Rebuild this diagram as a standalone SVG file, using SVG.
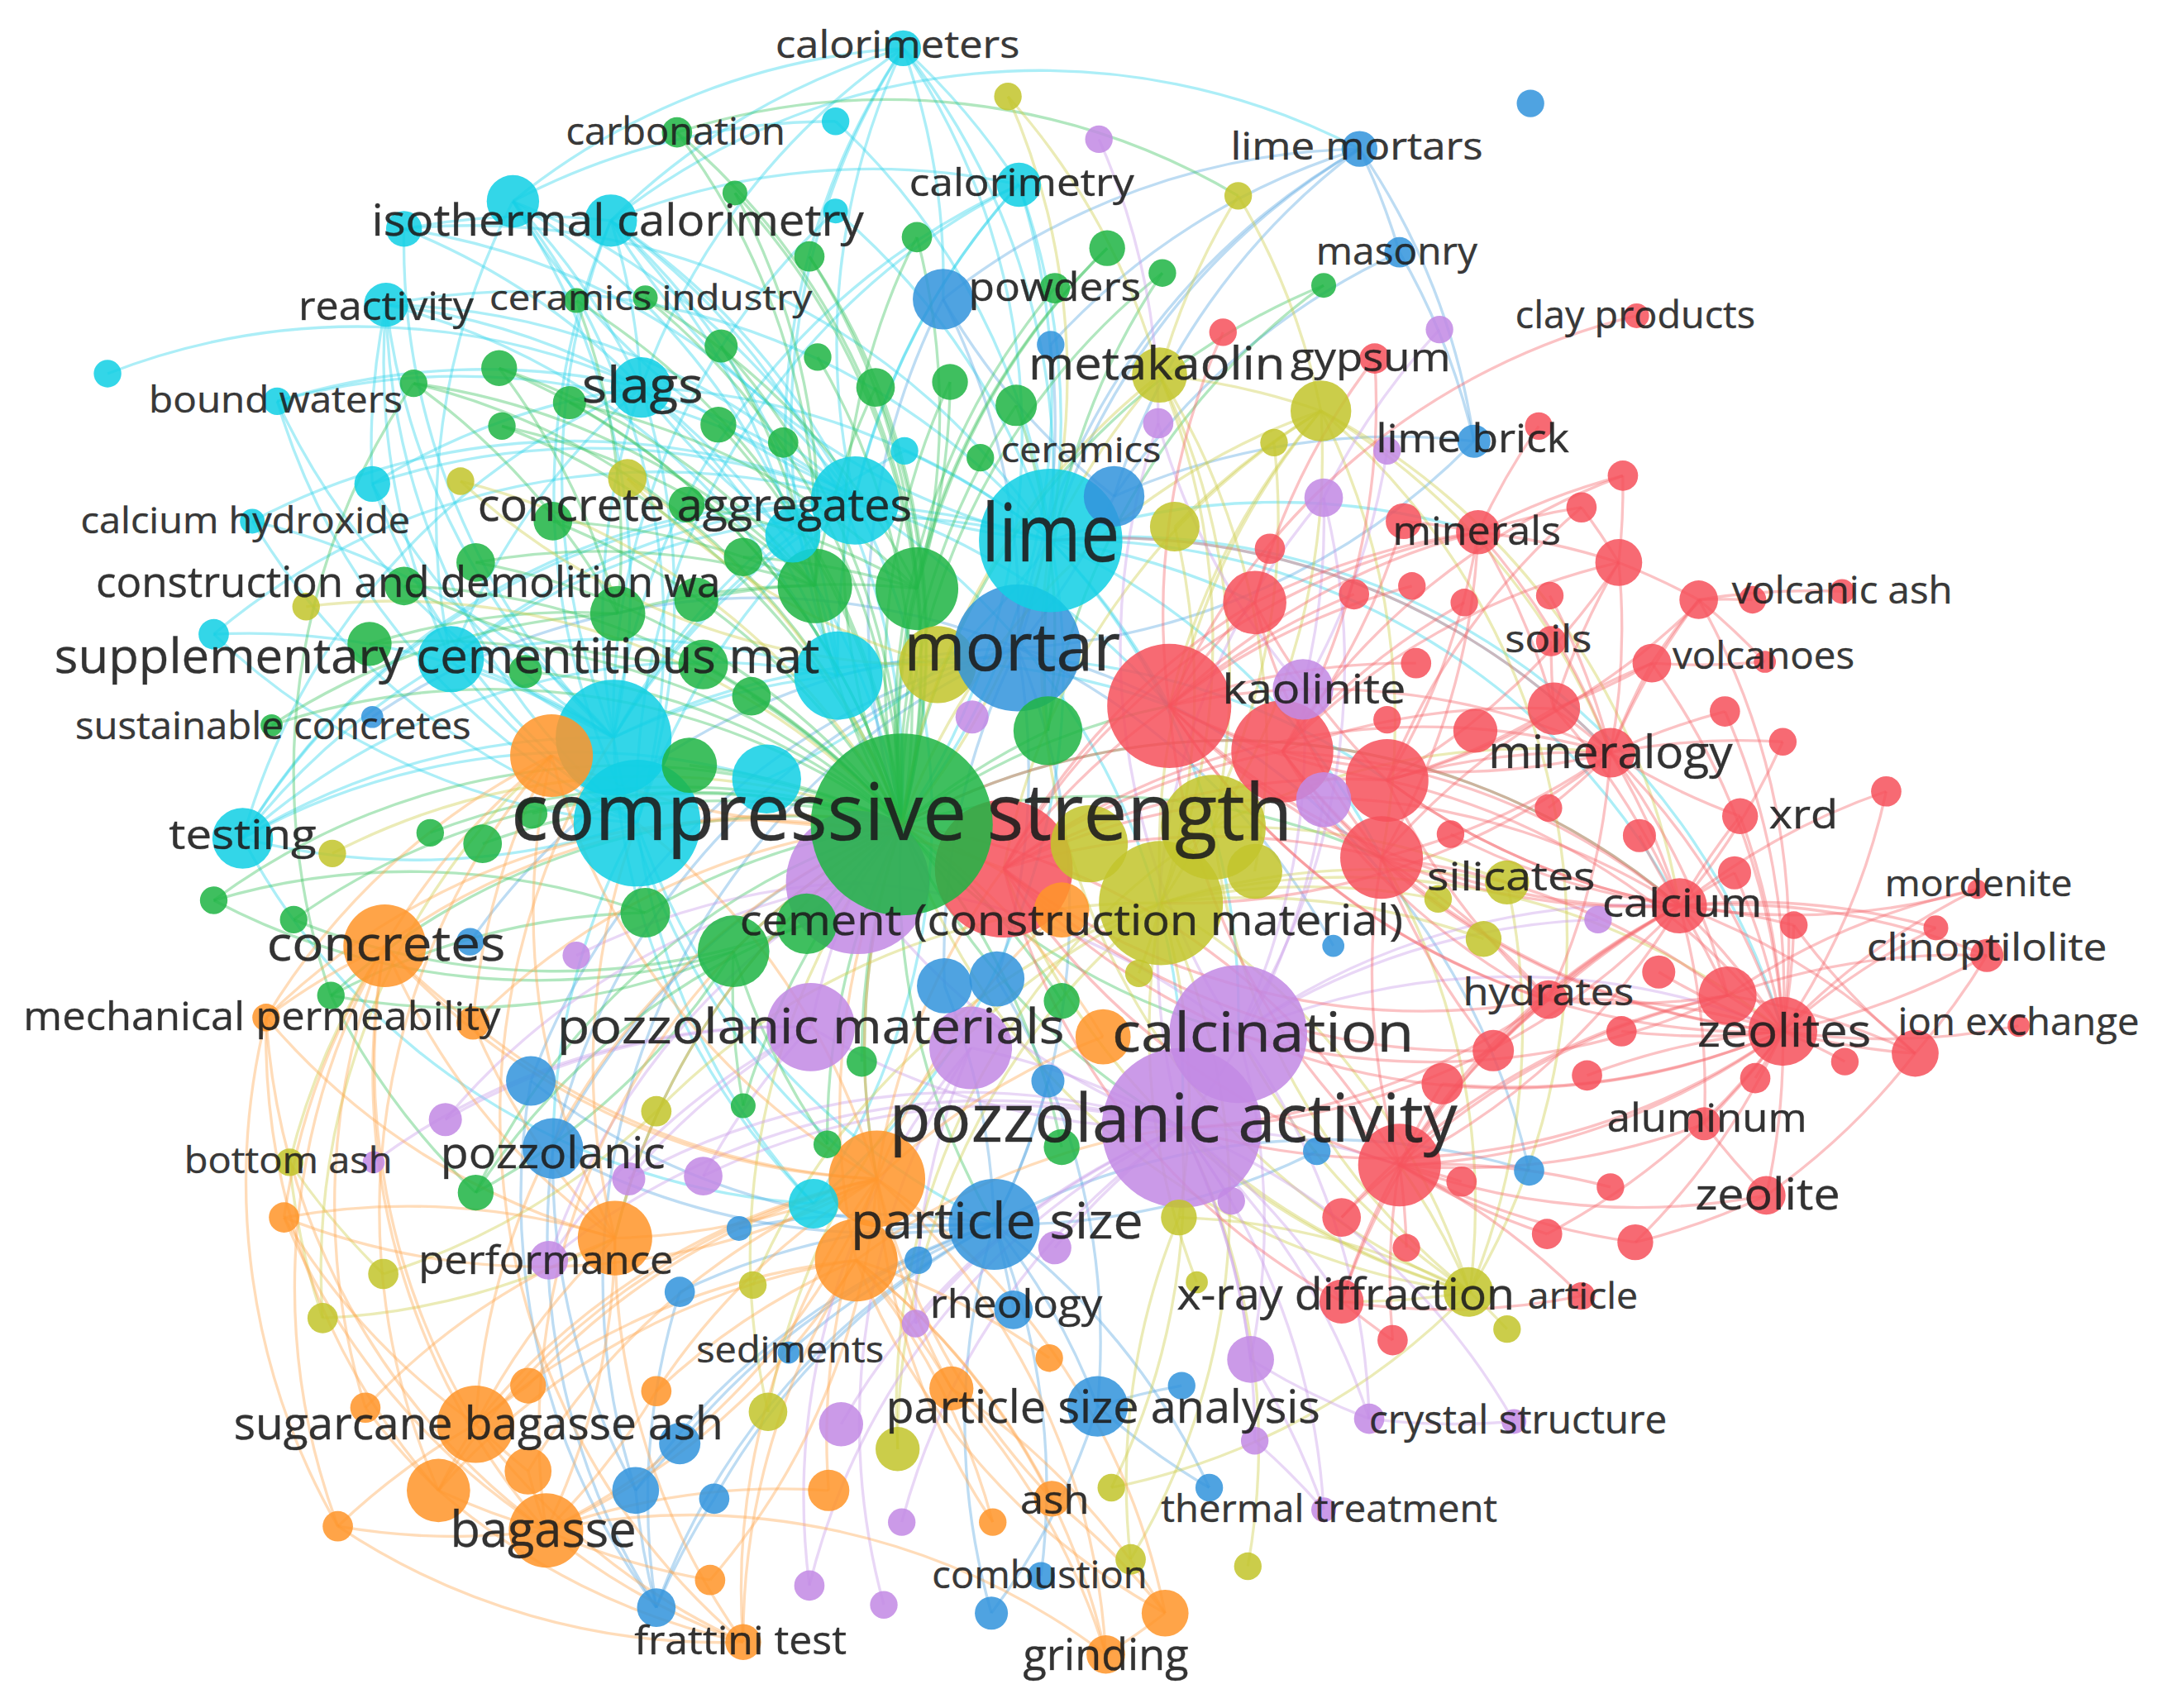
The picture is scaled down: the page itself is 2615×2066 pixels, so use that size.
<svg xmlns="http://www.w3.org/2000/svg" width="2615" height="2066" viewBox="0 0 2615 2066">
<style>
.r{fill:#f6505a;fill-opacity:.85}.g{fill:#20b545;fill-opacity:.86}.c{fill:#12cfe4;fill-opacity:.86}.b{fill:#3294dc;fill-opacity:.86}.y{fill:#c3c52c;fill-opacity:.86}.p{fill:#c289e4;fill-opacity:.86}.o{fill:#ff952a;fill-opacity:.86}
#connectors path{fill:none;stroke-width:2;stroke-opacity:.4}
.er{stroke:#f6666b}.eg{stroke:#3cc25e}.ec{stroke:#2fd4ea}.eb{stroke:#5aa8e2}.ey{stroke:#cdcd48}.ep{stroke:#c99be8}.eo{stroke:#ffa750}
#labels text{font-family:"Open Sans","Liberation Sans",sans-serif;fill:#1d1d1d;fill-opacity:.9;stroke:#1d1d1d;stroke-width:.35;stroke-opacity:.6;text-anchor:middle}
</style>
<rect width="2615" height="2066" fill="#ffffff"/>
<g transform="scale(1.66773)">
<g id="connectors">
<g class="ec">
<path d="M655 35A500 500 0 0 1 739 134"/><path d="M655 35A500 500 0 0 1 684 217"/><path d="M655 35A500 500 0 0 1 762 392"/><path d="M655 35A500 500 0 0 0 620 363"/><path d="M655 35A500 500 0 0 0 443 160"/><path d="M655 35A500 500 0 0 0 465 281"/><path d="M655 35A500 500 0 0 1 654 598"/><path d="M655 35A500 500 0 0 0 608 490"/><path d="M655 35A500 500 0 0 0 372 146"/><path d="M655 35A500 500 0 0 0 575 388"/>
<path d="M739 134A500 500 0 0 1 762 392"/><path d="M739 134A500 500 0 0 0 620 363"/><path d="M739 134A500 500 0 0 0 462 597"/><path d="M739 134A500 500 0 0 0 443 160"/><path d="M739 134A500 500 0 0 1 654 598"/><path d="M739 134A500 500 0 0 0 445 535"/><path d="M739 134A500 500 0 0 0 608 490"/>
<path d="M372 146A500 500 0 0 1 465 281"/><path d="M372 146A500 500 0 0 1 445 535"/><path d="M372 146A500 500 0 0 0 762 392"/><path d="M372 146A500 500 0 0 1 462 597"/><path d="M372 146A500 500 0 0 0 327 478"/><path d="M372 146A500 500 0 0 1 620 363"/><path d="M372 146A500 500 0 0 1 608 490"/>
<path d="M443 160A500 500 0 0 1 465 281"/><path d="M443 160A500 500 0 0 0 762 392"/><path d="M443 160A500 500 0 0 1 620 363"/><path d="M443 160A500 500 0 0 1 654 598"/><path d="M443 160A500 500 0 0 0 445 535"/><path d="M443 160A500 500 0 0 1 608 490"/><path d="M443 160A500 500 0 0 1 986 108"/><path d="M443 160A500 500 0 0 1 575 388"/><path d="M443 160A500 500 0 0 0 462 597"/>
<path d="M293 166A500 500 0 0 0 445 535"/><path d="M293 166A500 500 0 0 1 620 363"/><path d="M293 166A500 500 0 0 1 443 160"/><path d="M293 166A500 500 0 0 1 465 281"/><path d="M293 166A500 500 0 0 1 762 392"/>
<path d="M280 221A500 500 0 0 1 465 281"/><path d="M280 221A500 500 0 0 1 620 363"/><path d="M280 221A500 500 0 0 0 445 535"/><path d="M280 221A500 500 0 0 0 462 597"/><path d="M280 221A500 500 0 0 1 762 392"/><path d="M280 221A500 500 0 0 0 270 351"/><path d="M280 221A500 500 0 0 1 608 490"/><path d="M280 221A500 500 0 0 0 327 478"/>
<path d="M78 271A500 500 0 0 1 465 281"/><path d="M201 291A500 500 0 0 1 620 363"/><path d="M201 291A500 500 0 0 0 445 535"/><path d="M201 291A500 500 0 0 1 465 281"/><path d="M201 291A500 500 0 0 0 462 597"/>
<path d="M465 281A500 500 0 0 1 762 392"/><path d="M465 281A500 500 0 0 1 654 598"/><path d="M465 281A500 500 0 0 0 445 535"/><path d="M465 281A500 500 0 0 0 176 608"/><path d="M465 281A500 500 0 0 0 327 478"/><path d="M465 281A500 500 0 0 1 620 363"/><path d="M465 281A500 500 0 0 1 608 490"/><path d="M465 281A500 500 0 0 1 462 597"/><path d="M465 281A500 500 0 0 0 575 388"/>
<path d="M270 351A500 500 0 0 0 445 535"/><path d="M270 351A500 500 0 0 1 620 363"/><path d="M270 351A500 500 0 0 0 462 597"/><path d="M270 351A500 500 0 0 1 465 281"/><path d="M183 378A500 500 0 0 0 462 597"/><path d="M183 378A500 500 0 0 1 445 535"/><path d="M183 378A500 500 0 0 1 620 363"/><path d="M155 460A500 500 0 0 1 445 535"/><path d="M155 460A500 500 0 0 0 462 597"/><path d="M155 460A500 500 0 0 1 620 363"/>
<path d="M327 478A500 500 0 0 1 762 392"/><path d="M327 478A500 500 0 0 0 462 597"/><path d="M327 478A500 500 0 0 1 445 535"/><path d="M327 478A500 500 0 0 1 620 363"/><path d="M327 478A500 500 0 0 1 608 490"/>
<path d="M176 608A500 500 0 0 1 445 535"/><path d="M176 608A500 500 0 0 0 462 597"/><path d="M176 608A500 500 0 0 1 620 363"/><path d="M176 608A500 500 0 0 1 762 392"/><path d="M176 608A500 500 0 0 1 327 478"/><path d="M176 608A500 500 0 0 0 590 873"/><path d="M176 608A500 500 0 0 1 608 490"/><path d="M176 608A500 500 0 0 1 556 565"/>
<path d="M606 88A500 500 0 0 0 372 146"/><path d="M606 88A500 500 0 0 1 762 392"/><path d="M606 153A500 500 0 0 0 445 535"/><path d="M606 153A500 500 0 0 1 762 392"/><path d="M656 327A500 500 0 0 0 445 535"/><path d="M656 327A500 500 0 0 1 762 392"/>
<path d="M620 363A500 500 0 0 0 462 597"/><path d="M620 363A500 500 0 0 0 445 535"/><path d="M575 388A500 500 0 0 0 445 535"/><path d="M608 490A500 500 0 0 0 445 535"/><path d="M556 565A500 500 0 0 0 762 392"/>
<path d="M590 873A500 500 0 0 0 762 392"/><path d="M590 873A500 500 0 0 1 462 597"/><path d="M590 873A500 500 0 0 1 445 535"/><path d="M590 873A500 500 0 0 0 620 363"/>
<path d="M762 392A500 500 0 0 1 848 512"/><path d="M762 392A500 500 0 0 1 1168 546"/><path d="M762 392A500 500 0 0 1 1072 386"/><path d="M762 392A500 500 0 0 1 1002 622"/><path d="M762 392A500 500 0 0 1 910 437"/><path d="M762 392A500 500 0 0 1 1218 657"/><path d="M620 363A500 500 0 0 1 848 512"/><path d="M445 535A500 500 0 0 1 848 512"/><path d="M762 392A500 500 0 0 1 1293 748"/><path d="M608 490A500 500 0 0 1 1006 566"/>
<path d="M462 597A500 500 0 0 0 721 888"/><path d="M445 535A500 500 0 0 0 636 855"/><path d="M462 597A500 500 0 0 0 401 833"/><path d="M620 363A500 500 0 0 1 857 818"/><path d="M762 392A500 500 0 0 1 898 750"/>
</g>
<g class="eb">
<path d="M986 108A500 500 0 0 0 684 217"/><path d="M986 108A500 500 0 0 0 808 360"/><path d="M986 108A500 500 0 0 0 762 392"/><path d="M986 108A500 500 0 0 1 1069 320"/><path d="M986 108A500 500 0 0 1 1015 183"/><path d="M986 108A500 500 0 0 0 738 470"/>
<path d="M1015 183A500 500 0 0 0 808 360"/><path d="M1069 320A500 500 0 0 0 808 360"/><path d="M1069 320A500 500 0 0 1 738 470"/>
<path d="M684 217A500 500 0 0 1 738 470"/><path d="M684 217A500 500 0 0 0 808 360"/><path d="M684 217A500 500 0 0 0 654 598"/>
<path d="M385 784A500 500 0 0 1 738 470"/><path d="M401 833A500 500 0 0 0 721 888"/><path d="M401 833A500 500 0 0 1 738 470"/>
<path d="M721 888A500 500 0 0 1 796 1020"/><path d="M721 888A500 500 0 0 1 735 950"/><path d="M721 888A500 500 0 0 0 461 1081"/><path d="M721 888A500 500 0 0 0 476 1166"/>
<path d="M796 1020A500 500 0 0 1 719 1170"/><path d="M493 1047A500 500 0 0 1 721 888"/><path d="M461 1081A500 500 0 0 0 476 1166"/><path d="M476 1166A500 500 0 0 1 401 833"/><path d="M518 1087A500 500 0 0 1 721 888"/>
<path d="M796 1020A500 500 0 0 0 877 1079"/><path d="M1109 849A500 500 0 0 0 721 888"/><path d="M685 715A500 500 0 0 1 721 888"/><path d="M723 710A500 500 0 0 1 796 1020"/><path d="M476 1166A500 500 0 0 1 493 937"/>
<path d="M476 1166A500 500 0 0 1 385 784"/><path d="M461 1081A500 500 0 0 1 738 470"/><path d="M755 1143A500 500 0 0 0 721 888"/>
<path d="M738 470A500 500 0 0 1 721 888"/><path d="M738 470A500 500 0 0 0 685 715"/><path d="M738 470A500 500 0 0 1 723 710"/><path d="M808 360A500 500 0 0 1 738 470"/><path d="M762 250A500 500 0 0 1 738 470"/><path d="M762 250A500 500 0 0 1 986 108"/><path d="M341 683A500 500 0 0 1 738 470"/><path d="M270 520A500 500 0 0 1 738 470"/>
<path d="M760 784A500 500 0 0 1 721 888"/><path d="M536 891A500 500 0 0 1 721 888"/><path d="M493 937A500 500 0 0 1 721 888"/><path d="M572 981A500 500 0 0 1 721 888"/><path d="M857 1005A500 500 0 0 0 796 1020"/><path d="M877 1079A500 500 0 0 0 721 888"/><path d="M719 1170A500 500 0 0 1 721 888"/><path d="M493 1047A500 500 0 0 0 461 1081"/>
<path d="M518 1087A500 500 0 0 0 476 1166"/><path d="M461 1081A500 500 0 0 1 401 833"/><path d="M1109 849A500 500 0 0 0 738 470"/><path d="M955 835A500 500 0 0 1 721 888"/><path d="M967 686A500 500 0 0 0 738 470"/><path d="M385 784A500 500 0 0 0 721 888"/><path d="M401 833A500 500 0 0 1 654 598"/><path d="M1069 320A500 500 0 0 0 1015 183"/>
</g>
<g class="eg">
<path d="M491 96A500 500 0 0 1 654 598"/><path d="M533 140A500 500 0 0 1 654 598"/><path d="M587 186A500 500 0 0 1 654 598"/><path d="M665 172A500 500 0 0 0 654 598"/><path d="M803 180A500 500 0 0 0 654 598"/><path d="M843 198A500 500 0 0 0 654 598"/><path d="M960 207A500 500 0 0 0 654 598"/><path d="M765 209A500 500 0 0 0 654 598"/>
<path d="M468 216A500 500 0 0 1 654 598"/><path d="M418 218A500 500 0 0 1 654 598"/><path d="M523 251A500 500 0 0 1 654 598"/><path d="M593 259A500 500 0 0 1 654 598"/><path d="M300 278A500 500 0 0 1 654 598"/><path d="M362 267A500 500 0 0 1 654 598"/><path d="M413 292A500 500 0 0 1 654 598"/>
<path d="M521 308A500 500 0 0 1 654 598"/><path d="M364 309A500 500 0 0 1 654 598"/><path d="M635 281A500 500 0 0 1 654 598"/><path d="M689 277A500 500 0 0 0 654 598"/><path d="M737 294A500 500 0 0 0 654 598"/><path d="M401 378A500 500 0 0 1 654 598"/><path d="M345 408A500 500 0 0 1 654 598"/>
<path d="M293 425A500 500 0 0 1 654 598"/><path d="M268 467A500 500 0 0 1 654 598"/><path d="M197 526A500 500 0 0 1 654 598"/><path d="M312 604A500 500 0 0 1 654 598"/><path d="M155 653A500 500 0 0 1 654 598"/><path d="M213 667A500 500 0 0 1 654 598"/><path d="M240 722A500 500 0 0 1 654 598"/>
<path d="M345 865A500 500 0 0 1 654 598"/><path d="M539 802A500 500 0 0 1 654 598"/>
<path d="M491 96A500 500 0 0 1 591 425"/><path d="M362 267A500 500 0 0 1 448 445"/><path d="M300 278A500 500 0 0 1 591 425"/><path d="M587 186A500 500 0 0 1 665 427"/><path d="M803 180A500 500 0 0 0 665 427"/><path d="M960 207A500 500 0 0 0 760 530"/><path d="M843 198A500 500 0 0 0 760 530"/>
<path d="M523 251A500 500 0 0 1 591 425"/><path d="M468 216A500 500 0 0 1 665 427"/><path d="M240 722A500 500 0 0 0 532 690"/><path d="M345 865A500 500 0 0 0 532 690"/><path d="M155 653A500 500 0 0 0 532 690"/><path d="M491 96A500 500 0 0 1 898 142"/>
<path d="M300 278A500 500 0 0 0 240 722"/><path d="M345 865A500 500 0 0 1 240 722"/><path d="M600 830A500 500 0 0 1 654 598"/><path d="M770 832A500 500 0 0 0 654 598"/>
<path d="M401 378A500 500 0 0 1 591 425"/><path d="M498 366A500 500 0 0 1 665 427"/><path d="M539 404A500 500 0 0 1 665 427"/><path d="M448 445A500 500 0 0 1 591 425"/><path d="M505 435A500 500 0 0 1 665 427"/><path d="M268 467A500 500 0 0 1 448 445"/><path d="M293 425A500 500 0 0 0 510 482"/><path d="M345 408A500 500 0 0 1 591 425"/>
<path d="M381 487A500 500 0 0 1 654 598"/><path d="M510 482A500 500 0 0 1 654 598"/><path d="M545 505A500 500 0 0 1 654 598"/><path d="M500 555A500 500 0 0 1 654 598"/><path d="M350 612A500 500 0 0 1 654 598"/><path d="M386 590A500 500 0 0 1 654 598"/><path d="M468 662A500 500 0 0 1 654 598"/><path d="M532 690A500 500 0 0 1 654 598"/>
<path d="M585 670A500 500 0 0 1 654 598"/><path d="M770 726A500 500 0 0 0 654 598"/><path d="M625 770A500 500 0 0 1 654 598"/><path d="M760 530A500 500 0 0 0 654 598"/><path d="M591 425A500 500 0 0 0 654 598"/><path d="M665 427A500 500 0 0 0 654 598"/><path d="M364 309A500 500 0 0 1 591 425"/><path d="M413 292A500 500 0 0 1 665 427"/>
<path d="M635 281A500 500 0 0 0 591 425"/><path d="M689 277A500 500 0 0 1 665 427"/><path d="M737 294A500 500 0 0 1 760 530"/><path d="M665 172A500 500 0 0 1 665 427"/><path d="M533 140A500 500 0 0 1 591 425"/><path d="M418 218A500 500 0 0 1 448 445"/><path d="M362 267A500 500 0 0 1 591 425"/><path d="M300 278A500 500 0 0 1 448 445"/>
<path d="M197 526A500 500 0 0 1 448 445"/><path d="M155 653A500 500 0 0 1 468 662"/><path d="M213 667A500 500 0 0 0 585 670"/><path d="M240 722A500 500 0 0 1 468 662"/><path d="M345 865A500 500 0 0 1 585 670"/><path d="M539 802A500 500 0 0 1 532 690"/><path d="M600 830A500 500 0 0 1 532 690"/>
<path d="M654 598A500 500 0 0 1 848 512"/><path d="M654 598A500 500 0 0 1 1002 622"/><path d="M654 598A500 500 0 0 0 857 818"/><path d="M654 598A500 500 0 0 0 721 888"/><path d="M654 598A500 500 0 0 0 898 750"/><path d="M654 598A500 500 0 0 1 1218 657"/><path d="M654 598A500 500 0 0 0 636 855"/><path d="M654 598A500 500 0 0 0 446 898"/>
</g>
<g class="ey">
<path d="M841 272A500 500 0 0 1 958 298"/><path d="M841 272A500 500 0 0 1 842 655"/><path d="M841 272A500 500 0 0 1 880 600"/><path d="M958 298A500 500 0 0 0 842 655"/><path d="M958 298A500 500 0 0 1 880 600"/><path d="M958 298A500 500 0 0 1 1066 937"/><path d="M958 298A500 500 0 0 0 852 382"/>
<path d="M898 142A500 500 0 0 0 841 272"/><path d="M731 70A500 500 0 0 1 841 272"/><path d="M1066 937A500 500 0 0 0 842 655"/><path d="M1066 937A500 500 0 0 0 855 883"/><path d="M1066 937A500 500 0 0 1 1093 964"/><path d="M1066 937A500 500 0 0 1 880 600"/><path d="M1066 937A500 500 0 0 0 1093 640"/><path d="M1066 937A500 500 0 0 1 806 1079"/>
<path d="M210 843A500 500 0 0 0 278 924"/><path d="M210 843A500 500 0 0 0 234 956"/><path d="M278 924A500 500 0 0 0 476 806"/><path d="M820 1131A500 500 0 0 1 855 883"/><path d="M924 321A500 500 0 0 1 842 655"/><path d="M1093 640A500 500 0 0 0 842 655"/>
<path d="M334 349A500 500 0 0 0 680 482"/><path d="M455 347A500 500 0 0 0 680 482"/><path d="M651 1051A500 500 0 0 1 842 655"/><path d="M557 1024A500 500 0 0 1 842 655"/><path d="M842 655A500 500 0 0 1 1293 748"/><path d="M880 600A500 500 0 0 1 1168 546"/><path d="M958 298A500 500 0 0 1 1218 657"/>
<path d="M820 1131A500 500 0 0 0 842 655"/><path d="M234 956A500 500 0 0 1 400 548"/>
<path d="M1066 937A500 500 0 0 1 654 598"/><path d="M1066 937A500 500 0 0 1 728 630"/><path d="M1066 937A500 500 0 0 1 857 818"/><path d="M1066 937A500 500 0 0 1 898 750"/><path d="M1066 937A500 500 0 0 1 762 392"/><path d="M1066 937A500 500 0 0 0 1002 622"/><path d="M1066 937A500 500 0 0 0 1015 845"/><path d="M1066 937A500 500 0 0 1 973 944"/>
<path d="M855 883A500 500 0 0 0 842 655"/><path d="M868 930A500 500 0 0 1 842 655"/><path d="M806 1079A500 500 0 0 0 857 818"/><path d="M905 1136A500 500 0 0 0 857 818"/><path d="M651 1051A500 500 0 0 1 880 600"/><path d="M557 1024A500 500 0 0 1 654 598"/><path d="M546 932A500 500 0 0 1 842 655"/><path d="M476 806A500 500 0 0 1 842 655"/>
<path d="M826 706A500 500 0 0 0 842 655"/><path d="M1093 640A500 500 0 0 0 880 600"/><path d="M1043 652A500 500 0 0 0 842 655"/><path d="M1076 681A500 500 0 0 0 842 655"/><path d="M910 632A500 500 0 0 0 841 272"/><path d="M852 382A500 500 0 0 1 842 655"/><path d="M841 272A500 500 0 0 0 654 598"/><path d="M841 272A500 500 0 0 0 762 392"/>
<path d="M958 298A500 500 0 0 0 654 598"/><path d="M958 298A500 500 0 0 0 728 630"/><path d="M958 298A500 500 0 0 1 1002 622"/><path d="M958 298A500 500 0 0 1 1168 546"/><path d="M958 298A500 500 0 0 0 848 512"/><path d="M898 142A500 500 0 0 1 958 298"/><path d="M731 70A500 500 0 0 1 654 598"/><path d="M334 349A500 500 0 0 1 654 598"/>
<path d="M455 347A500 500 0 0 1 654 598"/><path d="M222 440A500 500 0 0 1 654 598"/><path d="M241 619A500 500 0 0 1 654 598"/><path d="M234 956A500 500 0 0 0 446 898"/><path d="M210 843A500 500 0 0 1 279 686"/>
</g>
<g class="ep">
<path d="M857 818A500 500 0 0 1 907 986"/><path d="M857 818A500 500 0 0 1 910 1045"/><path d="M857 818A500 500 0 0 1 993 1029"/><path d="M857 818A500 500 0 0 1 960 1095"/><path d="M857 818A500 500 0 0 0 664 960"/><path d="M857 818A500 500 0 0 0 610 1033"/><path d="M857 818A500 500 0 0 0 510 853"/><path d="M857 818A500 500 0 0 0 398 914"/>
<path d="M898 750A500 500 0 0 1 907 986"/><path d="M898 750A500 500 0 0 1 993 1029"/><path d="M993 1029A500 500 0 0 0 1098 1031"/><path d="M907 986A500 500 0 0 1 960 1095"/><path d="M588 745A500 500 0 0 0 456 855"/><path d="M588 745A500 500 0 0 0 323 812"/><path d="M588 745A500 500 0 0 0 398 914"/>
<path d="M910 1045A500 500 0 0 1 960 1095"/><path d="M704 760A500 500 0 0 0 587 1150"/><path d="M857 818A500 500 0 0 1 960 361"/><path d="M898 750A500 500 0 0 1 840 307"/><path d="M898 750A500 500 0 0 1 1293 748"/><path d="M857 818A500 500 0 0 1 1015 845"/><path d="M857 818A500 500 0 0 1 973 944"/><path d="M898 750A500 500 0 0 1 1218 657"/>
<path d="M857 818A500 500 0 0 1 622 640"/><path d="M857 818A500 500 0 0 1 588 745"/><path d="M857 818A500 500 0 0 0 704 760"/><path d="M857 818A500 500 0 0 0 960 580"/><path d="M898 750A500 500 0 0 0 622 640"/><path d="M898 750A500 500 0 0 0 960 361"/><path d="M898 750A500 500 0 0 0 945 500"/><path d="M588 745A500 500 0 0 1 622 640"/>
<path d="M588 745A500 500 0 0 0 510 853"/><path d="M704 760A500 500 0 0 0 664 960"/><path d="M622 640A500 500 0 0 0 418 693"/><path d="M622 640A500 500 0 0 0 323 812"/><path d="M960 361A500 500 0 0 1 945 500"/><path d="M1006 327A500 500 0 0 1 945 500"/><path d="M1044 239A500 500 0 0 0 960 361"/><path d="M840 307A500 500 0 0 0 945 500"/>
<path d="M797 101A500 500 0 0 1 840 307"/><path d="M893 871A500 500 0 0 0 857 818"/><path d="M765 905A500 500 0 0 1 857 818"/><path d="M907 986A500 500 0 0 0 993 1029"/><path d="M654 1104A500 500 0 0 1 857 818"/><path d="M641 1164A500 500 0 0 1 704 760"/><path d="M587 1150A500 500 0 0 1 857 818"/><path d="M1159 667A500 500 0 0 0 898 750"/>
<path d="M1098 1031A500 500 0 0 0 857 818"/><path d="M271 843A500 500 0 0 1 588 745"/><path d="M456 855A500 500 0 0 1 857 818"/><path d="M398 914A500 500 0 0 1 622 640"/>
</g>
<g class="eo">
<path d="M279 686A500 500 0 0 1 654 598"/><path d="M279 686A500 500 0 0 1 400 548"/><path d="M279 686A500 500 0 0 0 636 855"/><path d="M279 686A500 500 0 0 0 446 898"/><path d="M279 686A500 500 0 0 0 193 738"/><path d="M279 686A500 500 0 0 0 343 742"/><path d="M279 686A500 500 0 0 0 345 1033"/><path d="M279 686A500 500 0 0 0 396 1110"/>
<path d="M193 738A500 500 0 0 1 728 630"/><path d="M343 742A500 500 0 0 0 636 855"/><path d="M206 883A500 500 0 0 1 279 686"/><path d="M206 883A500 500 0 0 0 345 1033"/><path d="M446 898A500 500 0 0 0 636 855"/><path d="M446 898A500 500 0 0 1 654 598"/><path d="M446 898A500 500 0 0 0 345 1033"/><path d="M446 898A500 500 0 0 1 396 1110"/>
<path d="M636 855A500 500 0 0 0 345 1033"/><path d="M636 855A500 500 0 0 1 396 1110"/><path d="M636 855A500 500 0 0 0 318 1081"/><path d="M621 914A500 500 0 0 1 396 1110"/><path d="M621 914A500 500 0 0 0 318 1081"/><path d="M621 914A500 500 0 0 0 539 1191"/><path d="M621 914A500 500 0 0 0 845 1170"/><path d="M621 914A500 500 0 0 1 802 1200"/>
<path d="M636 855A500 500 0 0 1 802 1200"/><path d="M636 855A500 500 0 0 0 539 1191"/><path d="M383 1005A500 500 0 0 0 345 1033"/><path d="M476 1009A500 500 0 0 1 396 1110"/><path d="M265 1021A500 500 0 0 0 318 1081"/><path d="M345 1033A500 500 0 0 0 318 1081"/><path d="M345 1033A500 500 0 0 0 383 1067"/><path d="M318 1081A500 500 0 0 0 396 1110"/>
<path d="M383 1067A500 500 0 0 0 396 1110"/><path d="M245 1107A500 500 0 0 0 396 1110"/><path d="M396 1110A500 500 0 0 0 539 1191"/><path d="M345 1033A500 500 0 0 0 539 1191"/><path d="M601 1081A500 500 0 0 0 396 1110"/><path d="M690 1007A500 500 0 0 0 621 914"/><path d="M763 1087A500 500 0 0 0 621 914"/><path d="M720 1104A500 500 0 0 0 621 914"/>
<path d="M515 1146A500 500 0 0 0 636 855"/><path d="M845 1170A500 500 0 0 1 802 1200"/><path d="M763 1087A500 500 0 0 1 845 1170"/><path d="M345 1033A500 500 0 0 1 654 598"/><path d="M396 1110A500 500 0 0 1 654 598"/><path d="M318 1081A500 500 0 0 1 400 548"/><path d="M245 1107A500 500 0 0 1 279 686"/><path d="M400 548A500 500 0 0 0 654 598"/>
<path d="M800 752A500 500 0 0 0 636 855"/><path d="M770 660A500 500 0 0 0 636 855"/><path d="M206 883A500 500 0 0 0 636 855"/><path d="M265 1021A500 500 0 0 1 279 686"/><path d="M245 1107A500 500 0 0 0 539 1191"/><path d="M193 738A500 500 0 0 0 318 1081"/><path d="M802 1200A500 500 0 0 0 396 1110"/><path d="M845 1170A500 500 0 0 0 636 855"/>
<path d="M343 742A500 500 0 0 1 654 598"/><path d="M193 738A500 500 0 0 1 400 548"/><path d="M539 1191A500 500 0 0 1 445 535"/>
<path d="M400 548A500 500 0 0 0 636 855"/><path d="M343 742A500 500 0 0 0 446 898"/><path d="M193 738A500 500 0 0 0 446 898"/><path d="M206 883A500 500 0 0 1 446 898"/><path d="M265 1021A500 500 0 0 1 446 898"/><path d="M383 1005A500 500 0 0 1 636 855"/><path d="M476 1009A500 500 0 0 1 636 855"/><path d="M476 1009A500 500 0 0 1 621 914"/>
<path d="M383 1067A500 500 0 0 1 636 855"/><path d="M345 1033A500 500 0 0 1 621 914"/><path d="M245 1107A500 500 0 0 1 345 1033"/><path d="M515 1146A500 500 0 0 1 396 1110"/><path d="M539 1191A500 500 0 0 1 318 1081"/><path d="M539 1191A500 500 0 0 1 446 898"/><path d="M601 1081A500 500 0 0 1 636 855"/><path d="M690 1007A500 500 0 0 1 636 855"/>
<path d="M720 1104A500 500 0 0 1 636 855"/><path d="M761 985A500 500 0 0 0 621 914"/><path d="M845 1170A500 500 0 0 0 690 1007"/><path d="M802 1200A500 500 0 0 0 690 1007"/><path d="M763 1087A500 500 0 0 1 636 855"/><path d="M636 855A500 500 0 0 1 654 598"/><path d="M621 914A500 500 0 0 1 654 598"/><path d="M636 855A500 500 0 0 1 728 630"/>
<path d="M621 914A500 500 0 0 1 857 818"/><path d="M446 898A500 500 0 0 1 400 548"/><path d="M343 742A500 500 0 0 1 400 548"/><path d="M800 752A500 500 0 0 0 654 598"/><path d="M770 660A500 500 0 0 0 654 598"/><path d="M636 855A500 500 0 0 0 462 597"/><path d="M446 898A500 500 0 0 1 462 597"/><path d="M206 883A500 500 0 0 0 396 1110"/>
<path d="M193 738A500 500 0 0 0 396 1110"/><path d="M245 1107A500 500 0 0 1 193 738"/>
</g>
<g class="er">
<path d="M1293 748A500 500 0 0 0 1253 722"/><path d="M1293 748A500 500 0 0 0 1389 764"/><path d="M1293 748A500 500 0 0 0 1441 693"/><path d="M1293 748A500 500 0 0 1 1404 673"/><path d="M1293 748A500 500 0 0 1 1434 645"/><path d="M1293 748A500 500 0 0 0 1464 744"/><path d="M1293 748A500 500 0 0 1 1236 815"/><path d="M1293 748A500 500 0 0 1 1281 867"/>
<path d="M1293 748A500 500 0 0 0 1218 657"/><path d="M1293 748A500 500 0 0 0 1123 725"/><path d="M1293 748A500 500 0 0 1 1015 845"/><path d="M1293 748A500 500 0 0 0 1006 566"/><path d="M1293 748A500 500 0 0 0 1301 671"/><path d="M1293 748A500 500 0 0 1 1273 782"/>
<path d="M1253 722A500 500 0 0 1 1441 693"/><path d="M1253 722A500 500 0 0 1 1434 645"/><path d="M1389 764A500 500 0 0 0 1441 693"/><path d="M1389 764A500 500 0 0 1 1281 867"/><path d="M1253 722A500 500 0 0 0 1218 657"/>
<path d="M1168 546A500 500 0 0 0 1127 514"/><path d="M1168 546A500 500 0 0 1 1198 481"/><path d="M1168 546A500 500 0 0 1 1232 435"/><path d="M1168 546A500 500 0 0 0 1174 408"/><path d="M1168 546A500 500 0 0 0 1072 386"/><path d="M1168 546A500 500 0 0 0 1006 566"/><path d="M1168 546A500 500 0 0 1 930 545"/><path d="M1168 546A500 500 0 0 1 1218 657"/><path d="M1168 546A500 500 0 0 0 1262 592"/><path d="M1168 546A500 500 0 0 0 848 512"/>
<path d="M1072 386A500 500 0 0 0 910 437"/><path d="M1072 386A500 500 0 0 0 848 512"/><path d="M1072 386A500 500 0 0 1 1174 408"/><path d="M1072 386A500 500 0 0 1 1147 368"/><path d="M1072 386A500 500 0 0 1 1177 345"/><path d="M1072 386A500 500 0 0 0 1018 378"/>
<path d="M1174 408A500 500 0 0 1 1232 435"/><path d="M1174 408A500 500 0 0 0 1127 514"/><path d="M1232 435A500 500 0 0 1 1336 429"/><path d="M1232 435A500 500 0 0 0 1198 481"/><path d="M1198 481A500 500 0 0 0 1280 480"/><path d="M1125 465A500 500 0 0 0 1127 514"/>
<path d="M848 512A500 500 0 0 0 930 545"/><path d="M848 512A500 500 0 0 0 1006 566"/><path d="M848 512A500 500 0 0 0 1002 622"/><path d="M848 512A500 500 0 0 1 910 437"/><path d="M848 512A500 500 0 0 0 1218 657"/><path d="M848 512A500 500 0 0 0 1293 748"/>
<path d="M930 545A500 500 0 0 0 1002 622"/><path d="M930 545A500 500 0 0 0 1123 725"/><path d="M1006 566A500 500 0 0 0 1218 657"/><path d="M1002 622A500 500 0 0 0 1218 657"/><path d="M1002 622A500 500 0 0 0 1083 762"/><path d="M1002 622A500 500 0 0 0 1015 845"/>
<path d="M1218 657A500 500 0 0 1 1301 671"/><path d="M1218 657A500 500 0 0 0 1123 725"/><path d="M1218 657A500 500 0 0 1 1258 633"/>
<path d="M1015 845A500 500 0 0 0 973 883"/><path d="M1015 845A500 500 0 0 0 973 944"/><path d="M1015 845A500 500 0 0 0 1186 901"/><path d="M1015 845A500 500 0 0 0 1122 895"/><path d="M1015 845A500 500 0 0 1 1046 786"/><path d="M1015 845A500 500 0 0 1 1123 725"/><path d="M1015 845A500 500 0 0 0 1281 867"/>
<path d="M973 944A500 500 0 0 0 1147 940"/><path d="M973 944A500 500 0 0 0 1010 972"/><path d="M1236 815A500 500 0 0 0 1281 867"/><path d="M1123 725A500 500 0 0 0 1083 762"/>
<path d="M728 630A500 500 0 0 1 848 512"/><path d="M728 630A500 500 0 0 1 1002 622"/><path d="M728 630A500 500 0 0 1 1218 657"/><path d="M728 630A500 500 0 0 0 1015 845"/><path d="M728 630A500 500 0 0 1 930 545"/><path d="M728 630A500 500 0 0 1 1168 546"/><path d="M728 630A500 500 0 0 0 1293 748"/><path d="M728 630A500 500 0 0 1 1072 386"/>
<path d="M910 437A500 500 0 0 1 921 398"/><path d="M997 260A500 500 0 0 0 910 437"/><path d="M887 241A500 500 0 0 0 848 512"/><path d="M1187 229A500 500 0 0 0 848 512"/><path d="M997 260A500 500 0 0 1 930 545"/><path d="M982 431A500 500 0 0 0 848 512"/><path d="M1062 437A500 500 0 0 0 930 545"/><path d="M1027 481A500 500 0 0 0 848 512"/>
<path d="M1293 538A500 500 0 0 0 1168 546"/><path d="M1368 574A500 500 0 0 0 1218 657"/><path d="M1262 592A500 500 0 0 0 1218 657"/><path d="M1189 606A500 500 0 0 0 1218 657"/><path d="M1203 705A500 500 0 0 0 1293 748"/><path d="M1176 748A500 500 0 0 0 1293 748"/><path d="M1151 780A500 500 0 0 1 1293 748"/>
<path d="M1168 861A500 500 0 0 0 1015 845"/><path d="M1020 905A500 500 0 0 0 1015 845"/><path d="M1060 857A500 500 0 0 0 1015 845"/><path d="M1338 770A500 500 0 0 0 1293 748"/><path d="M1251 516A500 500 0 0 0 1168 546"/><path d="M1271 435A500 500 0 0 0 1232 435"/><path d="M1116 309A500 500 0 0 0 1072 386"/>
<path d="M1024 425A500 500 0 0 0 848 512"/><path d="M1124 432A500 500 0 0 1 1168 546"/><path d="M1123 586A500 500 0 0 0 1168 546"/><path d="M1052 605A500 500 0 0 0 1218 657"/><path d="M1177 345A500 500 0 0 0 930 545"/><path d="M1234 435A500 500 0 0 1 1006 566"/><path d="M1198 481A500 500 0 0 0 1002 622"/>
<path d="M1389 764A500 500 0 0 0 1218 657"/><path d="M1441 693A500 500 0 0 0 1218 657"/><path d="M1253 722A500 500 0 0 0 1015 845"/><path d="M1186 901A500 500 0 0 0 1281 867"/><path d="M973 883A500 500 0 0 1 1253 722"/><path d="M1147 368A500 500 0 0 0 1006 566"/>
<path d="M1253 722A500 500 0 0 1 1389 764"/><path d="M1253 722A500 500 0 0 1 1123 725"/><path d="M1253 722A500 500 0 0 0 1002 622"/><path d="M1253 722A500 500 0 0 0 1168 546"/><path d="M1218 657A500 500 0 0 0 1434 645"/><path d="M1218 657A500 500 0 0 1 1006 566"/><path d="M1218 657A500 500 0 0 0 1127 514"/><path d="M1218 657A500 500 0 0 1 1015 845"/>
<path d="M1218 657A500 500 0 0 1 1236 815"/><path d="M1168 546A500 500 0 0 1 1123 725"/><path d="M1168 546A500 500 0 0 1 1002 622"/><path d="M1168 546A500 500 0 0 1 1293 748"/><path d="M1127 514A500 500 0 0 1 1006 566"/><path d="M1127 514A500 500 0 0 0 930 545"/><path d="M1127 514A500 500 0 0 0 1198 481"/><path d="M1072 386A500 500 0 0 1 1006 566"/>
<path d="M1072 386A500 500 0 0 1 1002 622"/><path d="M1072 386A500 500 0 0 1 1127 514"/><path d="M1174 408A500 500 0 0 1 1006 566"/><path d="M1174 408A500 500 0 0 0 930 545"/><path d="M1177 345A500 500 0 0 1 1174 408"/><path d="M1147 368A500 500 0 0 1 1174 408"/><path d="M1018 378A500 500 0 0 1 930 545"/><path d="M910 437A500 500 0 0 0 1002 622"/>
<path d="M910 437A500 500 0 0 0 1006 566"/><path d="M848 512A500 500 0 0 0 1015 845"/><path d="M848 512A500 500 0 0 0 1123 725"/><path d="M930 545A500 500 0 0 1 1218 657"/><path d="M930 545A500 500 0 0 0 1293 748"/><path d="M1006 566A500 500 0 0 0 1123 725"/><path d="M1002 622A500 500 0 0 0 1293 748"/><path d="M1002 622A500 500 0 0 1 1123 725"/>
<path d="M1015 845A500 500 0 0 0 1236 815"/><path d="M1015 845A500 500 0 0 1 1218 657"/><path d="M1083 762A500 500 0 0 1 1218 657"/><path d="M1046 786A500 500 0 0 0 1293 748"/><path d="M973 944A500 500 0 0 1 1218 657"/><path d="M1010 972A500 500 0 0 1 1015 845"/><path d="M1186 901A500 500 0 0 0 1293 748"/><path d="M1122 895A500 500 0 0 0 1293 748"/>
<path d="M1147 940A500 500 0 0 0 1015 845"/><path d="M1262 592A500 500 0 0 1 1293 748"/><path d="M1368 574A500 500 0 0 1 1293 748"/><path d="M1301 671A500 500 0 0 0 1389 764"/><path d="M1404 673A500 500 0 0 0 1218 657"/><path d="M1258 633A500 500 0 0 1 1293 748"/><path d="M1198 481A500 500 0 0 1 1293 748"/><path d="M1232 435A500 500 0 0 1 1293 748"/>
<path d="M1280 480A500 500 0 0 0 1232 435"/><path d="M1251 516A500 500 0 0 1 1293 748"/><path d="M1293 538A500 500 0 0 1 1218 657"/><path d="M728 630A500 500 0 0 0 1123 725"/><path d="M728 630A500 500 0 0 0 1083 762"/><path d="M728 630A500 500 0 0 0 973 944"/><path d="M728 630A500 500 0 0 1 910 437"/><path d="M728 630A500 500 0 0 1 1006 566"/>
<path d="M1218 657A500 500 0 0 1 857 818"/><path d="M1293 748A500 500 0 0 1 857 818"/><path d="M1168 546A500 500 0 0 1 842 655"/><path d="M1123 725A500 500 0 0 1 857 818"/><path d="M1253 722A500 500 0 0 1 898 750"/><path d="M1218 657A500 500 0 0 0 654 598"/><path d="M1015 845A500 500 0 0 0 654 598"/><path d="M1168 546A500 500 0 0 0 762 392"/>
</g>
</g>
<g id="nodes">
<g id="n-p7"><circle class="p" cx="622" cy="640" r="52"/></g>
<g id="n-c22"><circle class="c" cx="462" cy="597" r="46"/></g>
<g id="n-c21"><circle class="c" cx="445" cy="535" r="42"/></g>
<g id="n-o1"><circle class="o" cx="400" cy="548" r="30"/></g>
<g id="n-r66"><circle class="r" cx="728" cy="630" r="50"/></g>
<g id="n-y13-cement"><circle class="y" cx="842" cy="655" r="45"/></g>
<g id="n-y12"><circle class="y" cx="880" cy="600" r="38"/></g>
<g id="n-y14"><circle class="y" cx="790" cy="612" r="28"/></g>
<g id="n-p13-pozzolanic-activity"><circle class="p" cx="857" cy="818" r="58"/></g>
<g id="n-p12-calcination"><circle class="p" cx="898" cy="750" r="50"/></g>
<g id="n-r25"><circle class="r" cx="848" cy="512" r="45"/></g>
<g id="n-r26"><circle class="r" cx="930" cy="545" r="37"/></g>
<g id="n-r27"><circle class="r" cx="1006" cy="566" r="30"/></g>
<g id="n-r36"><circle class="r" cx="1002" cy="622" r="30"/></g>
<g id="n-r54"><circle class="r" cx="1015" cy="845" r="30"/></g>
<g id="n-p10-pozzolanic-materials"><circle class="p" cx="588" cy="745" r="32"/></g>
<g id="n-p11"><circle class="p" cx="704" cy="760" r="30"/></g>
<g id="n-o7"><circle class="o" cx="636" cy="855" r="35"/></g>
<g id="n-o8"><circle class="o" cx="621" cy="914" r="30"/></g>
<g id="n-c15"><circle class="c" cx="620" cy="363" r="32"/></g>
<g id="n-c20"><circle class="c" cx="608" cy="490" r="32"/></g>
<g id="n-g26"><circle class="g" cx="591" cy="425" r="27"/></g>
<g id="n-g27"><circle class="g" cx="665" cy="427" r="30"/></g>
<g id="n-y10"><circle class="y" cx="680" cy="482" r="28"/></g>
<g id="n-b8-mortar"><circle class="b" cx="738" cy="470" r="46"/></g>
<g id="n-c17-lime"><circle class="c" cx="762" cy="392" r="52"/></g>
<g id="n-g36"><circle class="g" cx="760" cy="530" r="25"/></g>
<g id="n-c23"><circle class="c" cx="556" cy="565" r="25"/></g>
<g id="n-g53-compressive-strength"><circle class="g" cx="654" cy="598" r="66"/></g>
<g id="n-c1-calorimeters"><circle class="c" cx="655" cy="35" r="13"/></g>
<g id="n-c2"><circle class="c" cx="606" cy="88" r="10"/></g>
<g id="n-c3-calorimetry"><circle class="c" cx="739" cy="134" r="16"/></g>
<g id="n-c4"><circle class="c" cx="372" cy="146" r="19"/></g>
<g id="n-c5-isothermal-calorimetry"><circle class="c" cx="443" cy="160" r="19"/></g>
<g id="n-c6"><circle class="c" cx="293" cy="166" r="13"/></g>
<g id="n-c7"><circle class="c" cx="606" cy="153" r="9"/></g>
<g id="n-c8-reactivity"><circle class="c" cx="280" cy="221" r="16"/></g>
<g id="n-c9"><circle class="c" cx="78" cy="271" r="10"/></g>
<g id="n-c10-bound-waters"><circle class="c" cx="201" cy="291" r="10"/></g>
<g id="n-c11-slags"><circle class="c" cx="465" cy="281" r="22"/></g>
<g id="n-c12"><circle class="c" cx="656" cy="327" r="10"/></g>
<g id="n-c13"><circle class="c" cx="270" cy="351" r="13"/></g>
<g id="n-c14-calcium-hydroxide"><circle class="c" cx="183" cy="378" r="9"/></g>
<g id="n-c16"><circle class="c" cx="575" cy="388" r="20"/></g>
<g id="n-c18"><circle class="c" cx="155" cy="460" r="11"/></g>
<g id="n-c19-supplementary"><circle class="c" cx="327" cy="478" r="24"/></g>
<g id="n-c24-testing"><circle class="c" cx="176" cy="608" r="22"/></g>
<g id="n-c25"><circle class="c" cx="590" cy="873" r="18"/></g>
<g id="n-g1-carbonation"><circle class="g" cx="491" cy="96" r="11"/></g>
<g id="n-g2"><circle class="g" cx="533" cy="140" r="9"/></g>
<g id="n-g3"><circle class="g" cx="587" cy="186" r="11"/></g>
<g id="n-g4"><circle class="g" cx="665" cy="172" r="11"/></g>
<g id="n-g5"><circle class="g" cx="803" cy="180" r="13"/></g>
<g id="n-g6"><circle class="g" cx="843" cy="198" r="10"/></g>
<g id="n-g7"><circle class="g" cx="960" cy="207" r="9"/></g>
<g id="n-g8"><circle class="g" cx="765" cy="209" r="11"/></g>
<g id="n-g9-ceramics-industry"><circle class="g" cx="468" cy="216" r="9"/></g>
<g id="n-g10"><circle class="g" cx="418" cy="218" r="9"/></g>
<g id="n-g11"><circle class="g" cx="523" cy="251" r="12"/></g>
<g id="n-g12"><circle class="g" cx="593" cy="259" r="10"/></g>
<g id="n-g13"><circle class="g" cx="300" cy="278" r="10"/></g>
<g id="n-g14"><circle class="g" cx="362" cy="267" r="13"/></g>
<g id="n-g15"><circle class="g" cx="413" cy="292" r="12"/></g>
<g id="n-g16"><circle class="g" cx="521" cy="308" r="13"/></g>
<g id="n-g17"><circle class="g" cx="364" cy="309" r="10"/></g>
<g id="n-g18"><circle class="g" cx="568" cy="321" r="11"/></g>
<g id="n-g19"><circle class="g" cx="635" cy="281" r="14"/></g>
<g id="n-g20"><circle class="g" cx="689" cy="277" r="13"/></g>
<g id="n-g21"><circle class="g" cx="737" cy="294" r="15"/></g>
<g id="n-g22"><circle class="g" cx="711" cy="332" r="10"/></g>
<g id="n-g23"><circle class="g" cx="401" cy="378" r="14"/></g>
<g id="n-g24"><circle class="g" cx="498" cy="366" r="13"/></g>
<g id="n-g25"><circle class="g" cx="539" cy="404" r="14"/></g>
<g id="n-g28"><circle class="g" cx="345" cy="408" r="14"/></g>
<g id="n-g29"><circle class="g" cx="293" cy="425" r="14"/></g>
<g id="n-g30"><circle class="g" cx="448" cy="445" r="20"/></g>
<g id="n-g31"><circle class="g" cx="505" cy="435" r="16"/></g>
<g id="n-g32"><circle class="g" cx="268" cy="467" r="16"/></g>
<g id="n-g33"><circle class="g" cx="381" cy="487" r="12"/></g>
<g id="n-g34"><circle class="g" cx="510" cy="482" r="18"/></g>
<g id="n-g35"><circle class="g" cx="545" cy="505" r="14"/></g>
<g id="n-g37"><circle class="g" cx="197" cy="526" r="8"/></g>
<g id="n-g38"><circle class="g" cx="500" cy="555" r="20"/></g>
<g id="n-g39"><circle class="g" cx="312" cy="604" r="10"/></g>
<g id="n-g40"><circle class="g" cx="350" cy="612" r="14"/></g>
<g id="n-g41"><circle class="g" cx="386" cy="590" r="11"/></g>
<g id="n-g42"><circle class="g" cx="155" cy="653" r="10"/></g>
<g id="n-g43"><circle class="g" cx="213" cy="667" r="10"/></g>
<g id="n-g44"><circle class="g" cx="240" cy="722" r="10"/></g>
<g id="n-g45"><circle class="g" cx="468" cy="662" r="18"/></g>
<g id="n-g46"><circle class="g" cx="532" cy="690" r="26"/></g>
<g id="n-g47"><circle class="g" cx="585" cy="670" r="22"/></g>
<g id="n-g48"><circle class="g" cx="770" cy="726" r="13"/></g>
<g id="n-g49"><circle class="g" cx="625" cy="770" r="11"/></g>
<g id="n-g50"><circle class="g" cx="600" cy="830" r="10"/></g>
<g id="n-g51"><circle class="g" cx="345" cy="865" r="13"/></g>
<g id="n-g52"><circle class="g" cx="539" cy="802" r="9"/></g>
<g id="n-g54"><circle class="g" cx="770" cy="832" r="13"/></g>
<g id="n-b1"><circle class="b" cx="1110" cy="75" r="10"/></g>
<g id="n-b2-lime-mortars"><circle class="b" cx="986" cy="108" r="13"/></g>
<g id="n-b3-masonry"><circle class="b" cx="1015" cy="183" r="11"/></g>
<g id="n-b4-powders"><circle class="b" cx="684" cy="217" r="22"/></g>
<g id="n-b5"><circle class="b" cx="762" cy="250" r="10"/></g>
<g id="n-b6-lime-brick"><circle class="b" cx="1069" cy="320" r="12"/></g>
<g id="n-b7"><circle class="b" cx="808" cy="360" r="22"/></g>
<g id="n-b9"><circle class="b" cx="270" cy="520" r="8"/></g>
<g id="n-b10"><circle class="b" cx="341" cy="683" r="10"/></g>
<g id="n-b11"><circle class="b" cx="685" cy="715" r="20"/></g>
<g id="n-b12"><circle class="b" cx="723" cy="710" r="20"/></g>
<g id="n-b13"><circle class="b" cx="760" cy="784" r="12"/></g>
<g id="n-b14"><circle class="b" cx="385" cy="784" r="18"/></g>
<g id="n-b15-pozzolanic"><circle class="b" cx="401" cy="833" r="22"/></g>
<g id="n-b16"><circle class="b" cx="536" cy="891" r="9"/></g>
<g id="n-b17"><circle class="b" cx="493" cy="937" r="11"/></g>
<g id="n-b18"><circle class="b" cx="666" cy="914" r="10"/></g>
<g id="n-b19-particle-size"><circle class="b" cx="721" cy="888" r="33"/></g>
<g id="n-b20-rheology"><circle class="b" cx="735" cy="950" r="14"/></g>
<g id="n-b21-sediments"><circle class="b" cx="572" cy="981" r="8"/></g>
<g id="n-b22-particle-size-analysis"><circle class="b" cx="796" cy="1020" r="22"/></g>
<g id="n-b23"><circle class="b" cx="857" cy="1005" r="10"/></g>
<g id="n-b24"><circle class="b" cx="493" cy="1047" r="15"/></g>
<g id="n-b25"><circle class="b" cx="461" cy="1081" r="17"/></g>
<g id="n-b26"><circle class="b" cx="518" cy="1087" r="11"/></g>
<g id="n-b27"><circle class="b" cx="476" cy="1166" r="14"/></g>
<g id="n-b28-combustion"><circle class="b" cx="755" cy="1143" r="10"/></g>
<g id="n-b29"><circle class="b" cx="719" cy="1170" r="12"/></g>
<g id="n-b30"><circle class="b" cx="877" cy="1079" r="10"/></g>
<g id="n-b31"><circle class="b" cx="1109" cy="849" r="11"/></g>
<g id="n-b32"><circle class="b" cx="955" cy="835" r="10"/></g>
<g id="n-b33"><circle class="b" cx="967" cy="686" r="8"/></g>
<g id="n-y1"><circle class="y" cx="731" cy="70" r="10"/></g>
<g id="n-y2"><circle class="y" cx="898" cy="142" r="10"/></g>
<g id="n-y3-metakaolin"><circle class="y" cx="841" cy="272" r="20"/></g>
<g id="n-y4"><circle class="y" cx="958" cy="298" r="22"/></g>
<g id="n-y5"><circle class="y" cx="924" cy="321" r="10"/></g>
<g id="n-y6"><circle class="y" cx="852" cy="382" r="18"/></g>
<g id="n-y7"><circle class="y" cx="334" cy="349" r="10"/></g>
<g id="n-y8"><circle class="y" cx="455" cy="347" r="14"/></g>
<g id="n-y9"><circle class="y" cx="222" cy="440" r="10"/></g>
<g id="n-y11"><circle class="y" cx="241" cy="619" r="10"/></g>
<g id="n-y15"><circle class="y" cx="910" cy="632" r="20"/></g>
<g id="n-y16-silicates"><circle class="y" cx="1093" cy="640" r="16"/></g>
<g id="n-y17"><circle class="y" cx="1043" cy="652" r="10"/></g>
<g id="n-y18"><circle class="y" cx="1076" cy="681" r="13"/></g>
<g id="n-y19"><circle class="y" cx="476" cy="806" r="11"/></g>
<g id="n-y20-bottom-ash"><circle class="y" cx="210" cy="843" r="10"/></g>
<g id="n-y21"><circle class="y" cx="278" cy="924" r="11"/></g>
<g id="n-y22"><circle class="y" cx="234" cy="956" r="11"/></g>
<g id="n-y23"><circle class="y" cx="546" cy="932" r="10"/></g>
<g id="n-y24"><circle class="y" cx="557" cy="1024" r="14"/></g>
<g id="n-y25"><circle class="y" cx="651" cy="1051" r="16"/></g>
<g id="n-y26"><circle class="y" cx="855" cy="883" r="13"/></g>
<g id="n-y27"><circle class="y" cx="868" cy="930" r="8"/></g>
<g id="n-y28-x-ray-diffraction"><circle class="y" cx="1065" cy="937" r="18"/></g>
<g id="n-y29"><circle class="y" cx="1093" cy="964" r="10"/></g>
<g id="n-y30"><circle class="y" cx="806" cy="1079" r="10"/></g>
<g id="n-y31"><circle class="y" cx="820" cy="1131" r="11"/></g>
<g id="n-y32"><circle class="y" cx="905" cy="1136" r="10"/></g>
<g id="n-y33"><circle class="y" cx="826" cy="706" r="10"/></g>
<g id="n-p1"><circle class="p" cx="797" cy="101" r="10"/></g>
<g id="n-p2"><circle class="p" cx="1044" cy="239" r="10"/></g>
<g id="n-p3"><circle class="p" cx="840" cy="307" r="11"/></g>
<g id="n-p4"><circle class="p" cx="1006" cy="327" r="10"/></g>
<g id="n-p5"><circle class="p" cx="960" cy="361" r="14"/></g>
<g id="n-p6-kaolinite"><circle class="p" cx="945" cy="500" r="22"/></g>
<g id="n-p8"><circle class="p" cx="705" cy="520" r="12"/></g>
<g id="n-p9"><circle class="p" cx="418" cy="693" r="10"/></g>
<g id="n-p14"><circle class="p" cx="323" cy="812" r="12"/></g>
<g id="n-p15"><circle class="p" cx="271" cy="843" r="8"/></g>
<g id="n-p16"><circle class="p" cx="456" cy="855" r="12"/></g>
<g id="n-p17"><circle class="p" cx="510" cy="853" r="14"/></g>
<g id="n-p18-performance"><circle class="p" cx="398" cy="914" r="14"/></g>
<g id="n-p19"><circle class="p" cx="664" cy="960" r="10"/></g>
<g id="n-p20"><circle class="p" cx="610" cy="1033" r="16"/></g>
<g id="n-p21"><circle class="p" cx="654" cy="1104" r="10"/></g>
<g id="n-p22"><circle class="p" cx="587" cy="1150" r="11"/></g>
<g id="n-p23"><circle class="p" cx="641" cy="1164" r="10"/></g>
<g id="n-p24"><circle class="p" cx="907" cy="986" r="17"/></g>
<g id="n-p25-crystal-structure"><circle class="p" cx="993" cy="1029" r="11"/></g>
<g id="n-p26"><circle class="p" cx="1098" cy="1031" r="9"/></g>
<g id="n-p27"><circle class="p" cx="910" cy="1045" r="10"/></g>
<g id="n-p28-thermal-treatment"><circle class="p" cx="960" cy="1095" r="9"/></g>
<g id="n-p29"><circle class="p" cx="893" cy="871" r="10"/></g>
<g id="n-p30"><circle class="p" cx="1159" cy="667" r="10"/></g>
<g id="n-p31"><circle class="p" cx="960" cy="580" r="20"/></g>
<g id="n-p32"><circle class="p" cx="765" cy="905" r="12"/></g>
<g id="n-o2-concretes"><circle class="o" cx="279" cy="686" r="30"/></g>
<g id="n-o3"><circle class="o" cx="193" cy="738" r="10"/></g>
<g id="n-o4"><circle class="o" cx="343" cy="742" r="12"/></g>
<g id="n-o5"><circle class="o" cx="206" cy="883" r="11"/></g>
<g id="n-o6"><circle class="o" cx="446" cy="898" r="27"/></g>
<g id="n-o9"><circle class="o" cx="800" cy="752" r="20"/></g>
<g id="n-o10"><circle class="o" cx="761" cy="985" r="10"/></g>
<g id="n-o11"><circle class="o" cx="476" cy="1009" r="11"/></g>
<g id="n-o12"><circle class="o" cx="383" cy="1005" r="13"/></g>
<g id="n-o13"><circle class="o" cx="265" cy="1021" r="11"/></g>
<g id="n-o14"><circle class="o" cx="690" cy="1007" r="16"/></g>
<g id="n-o15-sugarcane-bagasse-ash"><circle class="o" cx="345" cy="1033" r="28"/></g>
<g id="n-o16"><circle class="o" cx="318" cy="1081" r="23"/></g>
<g id="n-o17"><circle class="o" cx="383" cy="1067" r="17"/></g>
<g id="n-o18"><circle class="o" cx="601" cy="1081" r="15"/></g>
<g id="n-o19-bagasse"><circle class="o" cx="396" cy="1110" r="27"/></g>
<g id="n-o20"><circle class="o" cx="245" cy="1107" r="11"/></g>
<g id="n-o21-ash"><circle class="o" cx="763" cy="1087" r="13"/></g>
<g id="n-o22"><circle class="o" cx="720" cy="1104" r="10"/></g>
<g id="n-o23"><circle class="o" cx="515" cy="1146" r="11"/></g>
<g id="n-o24-frattini-test"><circle class="o" cx="539" cy="1191" r="13"/></g>
<g id="n-o25"><circle class="o" cx="845" cy="1170" r="17"/></g>
<g id="n-o26-grinding"><circle class="o" cx="802" cy="1200" r="14"/></g>
<g id="n-o27"><circle class="o" cx="770" cy="660" r="20"/></g>
<g id="n-r1"><circle class="r" cx="887" cy="241" r="10"/></g>
<g id="n-r2-gypsum"><circle class="r" cx="997" cy="260" r="11"/></g>
<g id="n-r3-clay-products"><circle class="r" cx="1187" cy="229" r="9"/></g>
<g id="n-r4"><circle class="r" cx="1116" cy="309" r="10"/></g>
<g id="n-r5"><circle class="r" cx="1177" cy="345" r="11"/></g>
<g id="n-r6"><circle class="r" cx="1147" cy="368" r="11"/></g>
<g id="n-r7-minerals"><circle class="r" cx="1072" cy="386" r="16"/></g>
<g id="n-r8"><circle class="r" cx="1018" cy="378" r="13"/></g>
<g id="n-r9"><circle class="r" cx="921" cy="398" r="11"/></g>
<g id="n-r10"><circle class="r" cx="1174" cy="408" r="17"/></g>
<g id="n-r11"><circle class="r" cx="910" cy="437" r="23"/></g>
<g id="n-r12"><circle class="r" cx="982" cy="431" r="11"/></g>
<g id="n-r13"><circle class="r" cx="1024" cy="425" r="10"/></g>
<g id="n-r14"><circle class="r" cx="1062" cy="437" r="10"/></g>
<g id="n-r15"><circle class="r" cx="1124" cy="432" r="10"/></g>
<g id="n-r16-volcanic-ash"><circle class="r" cx="1232" cy="435" r="14"/></g>
<g id="n-r17"><circle class="r" cx="1271" cy="435" r="10"/></g>
<g id="n-r18"><circle class="r" cx="1336" cy="429" r="9"/></g>
<g id="n-r19-soils"><circle class="r" cx="1125" cy="465" r="11"/></g>
<g id="n-r20"><circle class="r" cx="1198" cy="481" r="14"/></g>
<g id="n-r21"><circle class="r" cx="1027" cy="481" r="11"/></g>
<g id="n-r22-volcanoes"><circle class="r" cx="1280" cy="480" r="8"/></g>
<g id="n-r23"><circle class="r" cx="1251" cy="516" r="11"/></g>
<g id="n-r24"><circle class="r" cx="1293" cy="538" r="10"/></g>
<g id="n-r28"><circle class="r" cx="1070" cy="530" r="16"/></g>
<g id="n-r29"><circle class="r" cx="1127" cy="514" r="19"/></g>
<g id="n-r30-mineralogy"><circle class="r" cx="1168" cy="546" r="18"/></g>
<g id="n-r31"><circle class="r" cx="1006" cy="522" r="10"/></g>
<g id="n-r32-xrd"><circle class="r" cx="1262" cy="592" r="13"/></g>
<g id="n-r33"><circle class="r" cx="1368" cy="574" r="11"/></g>
<g id="n-r34"><circle class="r" cx="1189" cy="606" r="12"/></g>
<g id="n-r35"><circle class="r" cx="1123" cy="586" r="10"/></g>
<g id="n-r37-calcium"><circle class="r" cx="1218" cy="657" r="20"/></g>
<g id="n-r38"><circle class="r" cx="1301" cy="671" r="10"/></g>
<g id="n-r39-mordenite"><circle class="r" cx="1434" cy="645" r="7"/></g>
<g id="n-r40"><circle class="r" cx="1404" cy="673" r="9"/></g>
<g id="n-r41-clinoptilolite"><circle class="r" cx="1441" cy="693" r="12"/></g>
<g id="n-r42"><circle class="r" cx="1253" cy="722" r="21"/></g>
<g id="n-r43-zeolites"><circle class="r" cx="1293" cy="748" r="25"/></g>
<g id="n-r44"><circle class="r" cx="1389" cy="764" r="17"/></g>
<g id="n-r45"><circle class="r" cx="1338" cy="770" r="10"/></g>
<g id="n-r46"><circle class="r" cx="1273" cy="782" r="11"/></g>
<g id="n-r47-ion-exchange"><circle class="r" cx="1464" cy="744" r="8"/></g>
<g id="n-r48-hydrates"><circle class="r" cx="1123" cy="725" r="14"/></g>
<g id="n-r49"><circle class="r" cx="1203" cy="705" r="12"/></g>
<g id="n-r50"><circle class="r" cx="1176" cy="748" r="11"/></g>
<g id="n-r51"><circle class="r" cx="1083" cy="762" r="15"/></g>
<g id="n-r52"><circle class="r" cx="1046" cy="786" r="15"/></g>
<g id="n-r53"><circle class="r" cx="1151" cy="780" r="11"/></g>
<g id="n-r55-aluminum"><circle class="r" cx="1236" cy="815" r="12"/></g>
<g id="n-r56"><circle class="r" cx="1060" cy="857" r="11"/></g>
<g id="n-r57"><circle class="r" cx="1168" cy="861" r="10"/></g>
<g id="n-r58-zeolite"><circle class="r" cx="1281" cy="867" r="14"/></g>
<g id="n-r59"><circle class="r" cx="1186" cy="901" r="13"/></g>
<g id="n-r60"><circle class="r" cx="1122" cy="895" r="11"/></g>
<g id="n-r61"><circle class="r" cx="973" cy="883" r="14"/></g>
<g id="n-r62"><circle class="r" cx="1020" cy="905" r="10"/></g>
<g id="n-r63"><circle class="r" cx="973" cy="944" r="16"/></g>
<g id="n-r64-article"><circle class="r" cx="1147" cy="940" r="10"/></g>
<g id="n-r65"><circle class="r" cx="1010" cy="972" r="11"/></g>
<g id="n-r68"><circle class="r" cx="1052" cy="605" r="10"/></g>
<g id="n-r69"><circle class="r" cx="1258" cy="633" r="12"/></g>
</g>
<g id="labels">
<text x="651" y="42" font-size="27" textLength="177" lengthAdjust="spacingAndGlyphs">calorimeters</text>
<text x="490" y="105" font-size="27" textLength="159" lengthAdjust="spacingAndGlyphs">carbonation</text>
<text x="741" y="142" font-size="27" textLength="163" lengthAdjust="spacingAndGlyphs">calorimetry</text>
<text x="984" y="116" font-size="27" textLength="183" lengthAdjust="spacingAndGlyphs">lime mortars</text>
<text x="448" y="171" font-size="32" textLength="357" lengthAdjust="spacingAndGlyphs">isothermal calorimetry</text>
<text x="1013" y="192" font-size="27" textLength="117" lengthAdjust="spacingAndGlyphs">masonry</text>
<text x="280" y="232" font-size="28" textLength="127" lengthAdjust="spacingAndGlyphs">reactivity</text>
<text x="472" y="225" font-size="25" textLength="234" lengthAdjust="spacingAndGlyphs">ceramics industry</text>
<text x="765" y="218" font-size="28" textLength="125" lengthAdjust="spacingAndGlyphs">powders</text>
<text x="1186" y="238" font-size="27" textLength="174" lengthAdjust="spacingAndGlyphs">clay products</text>
<text x="839" y="275" font-size="33" textLength="186" lengthAdjust="spacingAndGlyphs">metakaolin</text>
<text x="994" y="269" font-size="29" textLength="116" lengthAdjust="spacingAndGlyphs">gypsum</text>
<text x="466" y="292" font-size="36" textLength="88" lengthAdjust="spacingAndGlyphs">slags</text>
<text x="200" y="299" font-size="26" textLength="184" lengthAdjust="spacingAndGlyphs">bound waters</text>
<text x="784" y="335" font-size="25" textLength="116" lengthAdjust="spacingAndGlyphs">ceramics</text>
<text x="1068" y="328" font-size="28" textLength="140" lengthAdjust="spacingAndGlyphs">lime brick</text>
<text x="178" y="387" font-size="26" textLength="239" lengthAdjust="spacingAndGlyphs">calcium hydroxide</text>
<text x="504" y="378" font-size="33" textLength="315" lengthAdjust="spacingAndGlyphs">concrete aggregates</text>
<text x="762" y="407" font-size="58" textLength="100" lengthAdjust="spacingAndGlyphs">lime</text>
<text x="1071" y="395" font-size="28" textLength="122" lengthAdjust="spacingAndGlyphs">minerals</text>
<text x="296" y="433" font-size="31" textLength="453" lengthAdjust="spacingAndGlyphs">construction and demolition wa</text>
<text x="1336" y="438" font-size="27" textLength="160" lengthAdjust="spacingAndGlyphs">volcanic ash</text>
<text x="317" y="488" font-size="35" textLength="555" lengthAdjust="spacingAndGlyphs">supplementary cementitious mat</text>
<text x="734" y="486" font-size="48" textLength="157" lengthAdjust="spacingAndGlyphs">mortar</text>
<text x="1123" y="473" font-size="27" textLength="63" lengthAdjust="spacingAndGlyphs">soils</text>
<text x="1279" y="485" font-size="27" textLength="132" lengthAdjust="spacingAndGlyphs">volcanoes</text>
<text x="953" y="510" font-size="30" textLength="133" lengthAdjust="spacingAndGlyphs">kaolinite</text>
<text x="198" y="536" font-size="27" textLength="287" lengthAdjust="spacingAndGlyphs">sustainable concretes</text>
<text x="1168" y="557" font-size="33" textLength="177" lengthAdjust="spacingAndGlyphs">mineralogy</text>
<text x="654" y="609" font-size="57" textLength="567" lengthAdjust="spacingAndGlyphs">compressive strength</text>
<text x="1308" y="601" font-size="28" textLength="50" lengthAdjust="spacingAndGlyphs">xrd</text>
<text x="176" y="616" font-size="30" textLength="107" lengthAdjust="spacingAndGlyphs">testing</text>
<text x="1096" y="646" font-size="29" textLength="122" lengthAdjust="spacingAndGlyphs">silicates</text>
<text x="1435" y="650" font-size="26" textLength="136" lengthAdjust="spacingAndGlyphs">mordenite</text>
<text x="1220" y="665" font-size="29" textLength="116" lengthAdjust="spacingAndGlyphs">calcium</text>
<text x="777" y="678" font-size="31" textLength="481" lengthAdjust="spacingAndGlyphs">cement (construction material)</text>
<text x="1441" y="697" font-size="27" textLength="174" lengthAdjust="spacingAndGlyphs">clinoptilolite</text>
<text x="280" y="697" font-size="35" textLength="173" lengthAdjust="spacingAndGlyphs">concretes</text>
<text x="1123" y="729" font-size="27" textLength="124" lengthAdjust="spacingAndGlyphs">hydrates</text>
<text x="190" y="747" font-size="29" textLength="346" lengthAdjust="spacingAndGlyphs">mechanical permeability</text>
<text x="588" y="757" font-size="35" textLength="368" lengthAdjust="spacingAndGlyphs">pozzolanic materials</text>
<text x="916" y="763" font-size="39" textLength="219" lengthAdjust="spacingAndGlyphs">calcination</text>
<text x="1294" y="759" font-size="33" textLength="126" lengthAdjust="spacingAndGlyphs">zeolites</text>
<text x="1464" y="751" font-size="27" textLength="175" lengthAdjust="spacingAndGlyphs">ion exchange</text>
<text x="851" y="828" font-size="48" textLength="412" lengthAdjust="spacingAndGlyphs">pozzolanic activity</text>
<text x="1238" y="821" font-size="28" textLength="145" lengthAdjust="spacingAndGlyphs">aluminum</text>
<text x="209" y="851" font-size="26" textLength="151" lengthAdjust="spacingAndGlyphs">bottom ash</text>
<text x="401" y="847" font-size="32" textLength="163" lengthAdjust="spacingAndGlyphs">pozzolanic</text>
<text x="1282" y="877" font-size="32" textLength="105" lengthAdjust="spacingAndGlyphs">zeolite</text>
<text x="723" y="898" font-size="36" textLength="212" lengthAdjust="spacingAndGlyphs">particle size</text>
<text x="396" y="924" font-size="28" textLength="185" lengthAdjust="spacingAndGlyphs">performance</text>
<text x="976" y="950" font-size="32" textLength="245" lengthAdjust="spacingAndGlyphs">x-ray diffraction</text>
<text x="1148" y="949" font-size="26" textLength="80" lengthAdjust="spacingAndGlyphs">article</text>
<text x="737" y="956" font-size="29" textLength="125" lengthAdjust="spacingAndGlyphs">rheology</text>
<text x="573" y="988" font-size="26" textLength="136" lengthAdjust="spacingAndGlyphs">sediments</text>
<text x="800" y="1032" font-size="33" textLength="315" lengthAdjust="spacingAndGlyphs">particle size analysis</text>
<text x="1101" y="1040" font-size="28" textLength="216" lengthAdjust="spacingAndGlyphs">crystal structure</text>
<text x="347" y="1044" font-size="33" textLength="355" lengthAdjust="spacingAndGlyphs">sugarcane bagasse ash</text>
<text x="765" y="1098" font-size="29" textLength="50" lengthAdjust="spacingAndGlyphs">ash</text>
<text x="964" y="1104" font-size="27" textLength="244" lengthAdjust="spacingAndGlyphs">thermal treatment</text>
<text x="394" y="1122" font-size="36" textLength="135" lengthAdjust="spacingAndGlyphs">bagasse</text>
<text x="754" y="1152" font-size="27" textLength="156" lengthAdjust="spacingAndGlyphs">combustion</text>
<text x="537" y="1200" font-size="28" textLength="154" lengthAdjust="spacingAndGlyphs">frattini test</text>
<text x="802" y="1211" font-size="32" textLength="120" lengthAdjust="spacingAndGlyphs">grinding</text>
</g>
</g>
</svg>
